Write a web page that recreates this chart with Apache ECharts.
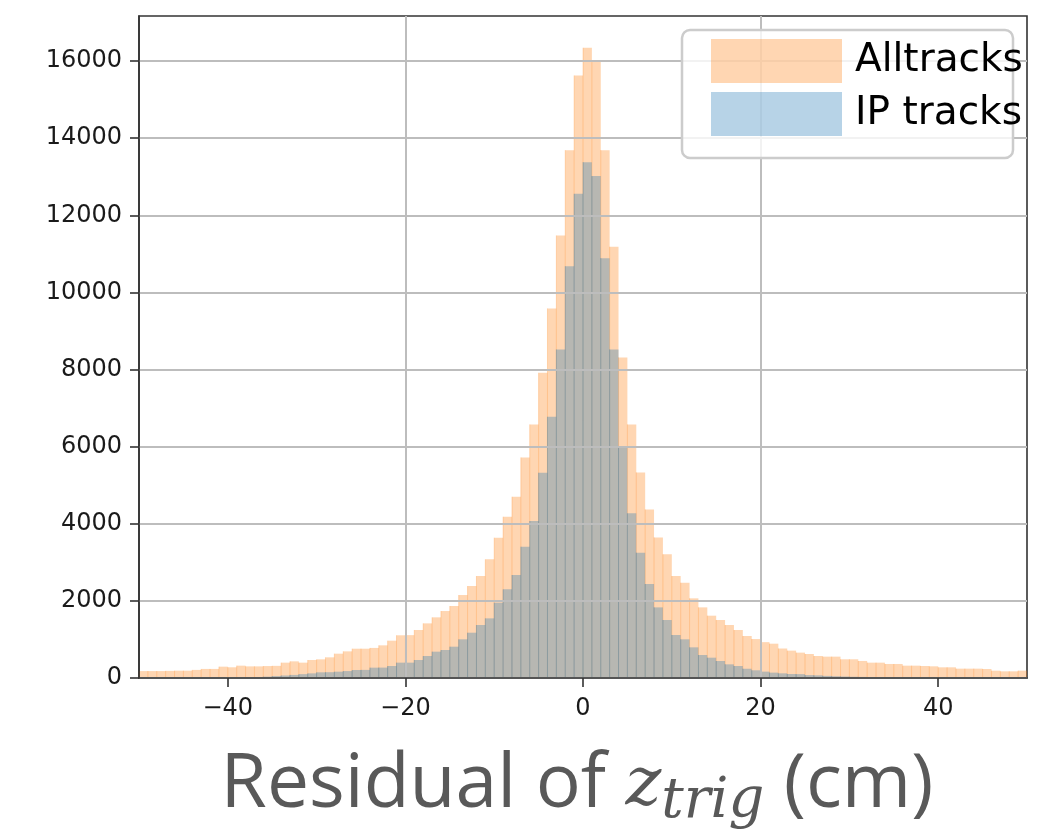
<!DOCTYPE html>
<html>
<head>
<meta charset="utf-8">
<title>Residual of z_trig</title>
<script src="https://cdn.jsdelivr.net/npm/echarts@6/dist/echarts.min.js"></script>
<style>
  html, body { margin: 0; padding: 0; background: #ffffff; }
  #chart { width: 1054px; height: 830px; }
</style>
</head>
<body>
<div id="chart"></div>
<script>
// Histogram binning: 100 bins of 1 cm from -50 cm to +50 cm
const binStart = -50;
const binWidth = 1;

// Counts per bin, left to right (bins -50..-41, -40..-31, ... , 40..49)
const allTracks = [
  180, 180, 180, 185, 190, 190, 210, 235, 235, 294,
  278, 320, 302, 302, 310, 315, 398, 432, 398, 467,
  484, 536, 631, 691, 760, 760, 780, 847, 968, 1108,
  1112, 1245, 1417, 1573, 1737, 1867, 2152, 2385, 2645, 3077,
  3639, 4183, 4702, 5722, 6577, 7917, 9585, 11478, 13691, 15628,
  16346, 15974, 13691, 11184, 8315, 6577, 5333, 4373, 3647, 3207,
  2645, 2472, 2066, 1832, 1616, 1504, 1374, 1245, 1090, 1010,
  930, 890, 765, 710, 658, 623, 571, 554, 554, 485,
  485, 442, 398, 398, 364, 364, 320, 320, 312, 303,
  277, 277, 242, 242, 242, 234, 190, 173, 173, 190
];

const ipTracks = [
  5, 5, 6, 7, 8, 9, 10, 12, 13, 15,
  17, 19, 22, 26, 35, 50, 65, 80, 100, 120,
  147, 150, 164, 180, 207, 210, 268, 270, 311, 398,
  398, 467, 570, 683, 726, 812, 1003, 1175, 1374, 1547,
  1953, 2299, 2671, 3405, 4071, 5324, 6776, 8522, 10682, 12558,
  13380, 13017, 10890, 8522, 5998, 4270, 3250, 2437, 1832, 1504,
  1115, 1003, 795, 596, 527, 441, 354, 311, 240, 200,
  165, 139, 121, 104, 100, 75, 69, 55, 45, 38,
  32, 28, 24, 20, 17, 15, 13, 11, 10, 9,
  8, 7, 6, 6, 5, 5, 4, 4, 3, 3
];

const seriesNames = ['Alltracks', 'IP tracks'];
const xTickValues = [-40, -20, 0, 20, 40];
const yTickValues = [0, 2000, 4000, 6000, 8000, 10000, 12000, 14000, 16000];

// [left edge, right edge, count] for each bin
function toBins(counts) {
  return counts.map((c, i) => [binStart + i * binWidth, binStart + (i + 1) * binWidth, c]);
}

const orangeFill = 'rgba(255,127,14,0.32)';
const blueFill = 'rgba(31,119,180,0.32)';

// Each bin is a filled rectangle plus a thin seam on its left edge
function binRenderer(seamColor) {
  return function (params, api) {
    const x0 = api.value(0);
    const x1 = api.value(1);
    const h = api.value(2);
    const pTop = api.coord([x0, h]);
    const pBottom = api.coord([x1, 0]);
    return {
      type: 'group',
      children: [
        {
          type: 'rect',
          shape: { x: pTop[0], y: pTop[1], width: pBottom[0] - pTop[0], height: pBottom[1] - pTop[1] },
          style: { fill: api.visual('color') }
        },
        {
          type: 'line',
          shape: { x1: pTop[0], y1: pTop[1], x2: pTop[0], y2: pBottom[1] },
          style: { stroke: seamColor, lineWidth: 1 }
        }
      ]
    };
  };
}

const minus = v => (v < 0 ? '\u2212' + Math.abs(v) : String(v));

const chart = echarts.init(document.getElementById('chart'), null, { renderer: 'canvas' });

chart.setOption({
  animation: false,
  backgroundColor: '#ffffff',
  grid: {
    left: 139, right: 27, top: 16, bottom: 152,
    containLabel: false,
    outerBoundsMode: 'none',
    show: true, borderColor: '#333333', borderWidth: 1.6, backgroundColor: 'transparent'
  },
  xAxis: {
    type: 'value',
    min: -50,
    max: 50,
    interval: 10,
    z: 3,
    axisLine: { show: true, onZero: false, lineStyle: { color: '#333333', width: 1.6 } },
    axisTick: { show: true, length: 9, customValues: xTickValues, lineStyle: { color: '#333333', width: 1.6 } },
    axisLabel: {
      customValues: xTickValues,
      formatter: minus,
      margin: 19,
      fontFamily: 'DejaVu Sans',
      fontSize: 24,
      color: '#1a1a1a'
    },
    // lines every 10 cm, only the multiples of 20 are drawn
    splitLine: { show: true, lineStyle: { color: ['rgba(0,0,0,0)', '#bdbdbd'], width: 2 } },
    name: '{a|Residual of }{z|z}{s|trig}{a| (cm)}',
    nameLocation: 'middle',
    nameGap: 64,
    nameTextStyle: {
      padding: [0, 12, 0, 0],
      rich: {
        a: { fontFamily: 'Open Sans', fontSize: 75, color: '#595959', lineHeight: 88 },
        z: { fontFamily: 'DejaVu Serif', fontStyle: 'italic', fontSize: 68, color: '#595959', lineHeight: 88 },
        s: { fontFamily: 'DejaVu Serif', fontStyle: 'italic', fontSize: 56, color: '#595959', lineHeight: 48, verticalAlign: 'bottom' }
      }
    }
  },
  yAxis: {
    type: 'value',
    min: 0,
    max: 17170,
    interval: 2000,
    z: 3,
    axisLine: { show: true, onZero: false, lineStyle: { color: '#333333', width: 1.6 } },
    axisTick: { show: true, length: 9, customValues: yTickValues, lineStyle: { color: '#333333', width: 1.6 } },
    axisLabel: {
      customValues: yTickValues,
      formatter: v => String(v),
      margin: 17,
      fontFamily: 'DejaVu Sans',
      fontSize: 24,
      color: '#1a1a1a'
    },
    splitLine: { show: true, lineStyle: { color: '#bdbdbd', width: 2 } }
  },
  legend: {
    orient: 'vertical',
    left: 711,
    top: 39,
    padding: 0,
    itemGap: 9,
    itemWidth: 131,
    itemHeight: 44,
    icon: 'rect',
    z: 10,
    data: [
      { name: seriesNames[0], itemStyle: { color: orangeFill } },
      { name: seriesNames[1], itemStyle: { color: blueFill } }
    ],
    textStyle: {
      fontFamily: 'DejaVu Sans',
      fontSize: 39,
      color: '#000000',
      lineHeight: 44,
      padding: [0, 0, 0, 8]
    }
  },
  graphic: [
    {
      type: 'rect',
      z: 6,
      shape: { x: 682, y: 30, width: 331, height: 128, r: 8 },
      style: { fill: 'rgba(255,255,255,0.8)', stroke: '#cccccc', lineWidth: 2.5 },
      silent: true
    }
  ],
  series: [
    {
      name: seriesNames[0],
      type: 'custom',
      renderItem: binRenderer('rgba(255,127,14,0.25)'),
      itemStyle: { color: orangeFill },
      encode: { x: [0, 1], y: 2 },
      data: toBins(allTracks),
      z: 2
    },
    {
      name: seriesNames[1],
      type: 'custom',
      renderItem: binRenderer('rgba(31,119,180,0.3)'),
      itemStyle: { color: blueFill },
      encode: { x: [0, 1], y: 2 },
      data: toBins(ipTracks),
      z: 2
    }
  ]
});
</script>
</body>
</html>
